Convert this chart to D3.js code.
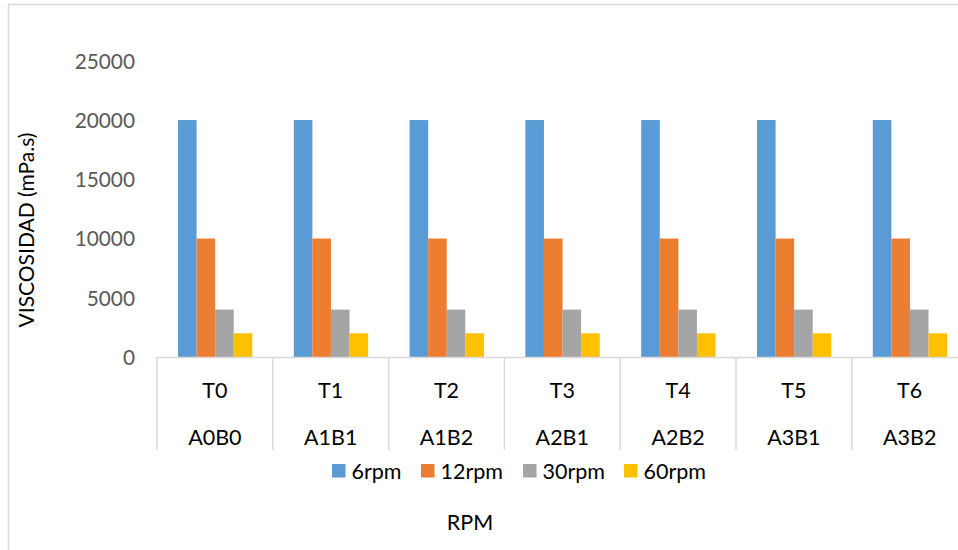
<!DOCTYPE html>
<html>
<head>
<meta charset="utf-8">
<script src="https://cdn.jsdelivr.net/npm/d3@7/dist/d3.min.js"></script>
<style>
  html, body { margin: 0; padding: 0; background: #fff; }
  svg { display: block; }
  text { font-family: "Lato", "Liberation Sans", sans-serif; }
</style>
</head>
<body>
<svg id="chart" width="958" height="550"></svg>
<script>
const categories = ["T0", "T1", "T2", "T3", "T4", "T5", "T6"];
const subCategories = ["A0B0", "A1B1", "A1B2", "A2B1", "A2B2", "A3B1", "A3B2"];
const seriesNames = ["6rpm", "12rpm", "30rpm", "60rpm"];
const values6 = [20000, 20000, 20000, 20000, 20000, 20000, 20000];
const values12 = [10000, 10000, 10000, 10000, 10000, 10000, 10000];
const values30 = [4000, 4000, 4000, 4000, 4000, 4000, 4000];
const values60 = [2000, 2000, 2000, 2000, 2000, 2000, 2000];
const yTicks = [0, 5000, 10000, 15000, 20000, 25000];
const colors = ["#5b9bd5", "#ed7d31", "#a5a5a5", "#ffc000"];

const seriesValues = [values6, values12, values30, values60];

const svg = d3.select("#chart");

// chart border
svg.append("rect")
  .attr("x", 8.5).attr("y", 4.5)
  .attr("width", 1000).attr("height", 600)
  .attr("fill", "none").attr("stroke", "#d9d9d9").attr("stroke-width", 1.5);

const plotLeft = 157, catW = 115.8;
const plotRight = plotLeft + catW * categories.length;
const yBase = 357, yTop = 60.8;

const x = d3.scaleBand().domain(categories).range([plotLeft, plotRight]).paddingInner(0).paddingOuter(0);
const xInner = d3.scaleBand().domain(seriesNames).range([21, catW - 20.5]).paddingInner(0);
const y = d3.scaleLinear().domain([0, 25000]).range([yBase, yTop]);

// bars
const groups = svg.append("g").selectAll("g")
  .data(categories)
  .join("g")
  .attr("transform", d => `translate(${x(d)},0)`);

groups.selectAll("rect")
  .data((d, i) => seriesNames.map((s, j) => ({ s, v: seriesValues[j][i], c: colors[j] })))
  .join("rect")
  .attr("x", d => xInner(d.s))
  .attr("width", xInner.bandwidth())
  .attr("y", d => y(d.v))
  .attr("height", d => y(0) - y(d.v))
  .attr("fill", d => d.c);

// y axis labels
const yAxis = d3.axisLeft(y).tickValues(yTicks).tickSize(0).tickPadding(0).tickFormat(d3.format("d"));
const ya = svg.append("g").attr("transform", "translate(135,0)").call(yAxis);
ya.select(".domain").remove();
ya.selectAll("text").attr("fill", "#595959").style("font-size", "20.8px").style("font-family", "Lato, 'Liberation Sans', sans-serif").attr("dy", "0.35em");

// x axis baseline
svg.append("line")
  .attr("x1", plotLeft).attr("x2", plotRight)
  .attr("y1", yBase + 0.5).attr("y2", yBase + 0.5)
  .attr("stroke", "#d9d9d9").attr("stroke-width", 1.5);

// separators
const seps = categories.map(c => x(c)).concat([plotRight]);
svg.append("g").selectAll("line")
  .data(seps)
  .join("line")
  .attr("x1", d => d).attr("x2", d => d)
  .attr("y1", yBase).attr("y2", 450)
  .attr("stroke", "#d9d9d9").attr("stroke-width", 1.5);

// category labels
svg.append("g").selectAll("text")
  .data(categories)
  .join("text")
  .attr("x", d => x(d) + catW / 2)
  .attr("y", 390)
  .attr("dy", "0.35em")
  .attr("text-anchor", "middle")
  .attr("fill", "#000")
  .style("font-size", "21.5px")
  .text(d => d);

svg.append("g").selectAll("text")
  .data(subCategories)
  .join("text")
  .attr("x", (d, i) => x(categories[i]) + catW / 2)
  .attr("y", 437)
  .attr("dy", "0.35em")
  .attr("text-anchor", "middle")
  .attr("fill", "#000")
  .style("font-size", "21.5px")
  .text(d => d);

// y axis title
svg.append("text")
  .attr("transform", "translate(27,230) rotate(-90)")
  .attr("text-anchor", "middle")
  .attr("dy", "0.35em")
  .attr("fill", "#000")
  .style("font-size", "21px")
  .text("VISCOSIDAD (mPa.s)");

// legend
const legendX = [332, 421, 523, 624];
const lg = svg.append("g").selectAll("g")
  .data(seriesNames)
  .join("g")
  .attr("transform", (d, i) => `translate(${legendX[i]},0)`);
lg.append("rect")
  .attr("x", 0).attr("y", 464).attr("width", 13.5).attr("height", 13.5)
  .attr("fill", (d, i) => colors[i]);
lg.append("text")
  .attr("x", 19.5).attr("y", 471.5).attr("dy", "0.35em")
  .attr("fill", "#000")
  .style("font-size", "21.5px")
  .text(d => d);

// x axis title
svg.append("text")
  .attr("x", 470).attr("y", 522).attr("dy", "0.35em")
  .attr("text-anchor", "middle")
  .attr("fill", "#000")
  .style("font-size", "21.5px")
  .text("RPM");
</script>
</body>
</html>
